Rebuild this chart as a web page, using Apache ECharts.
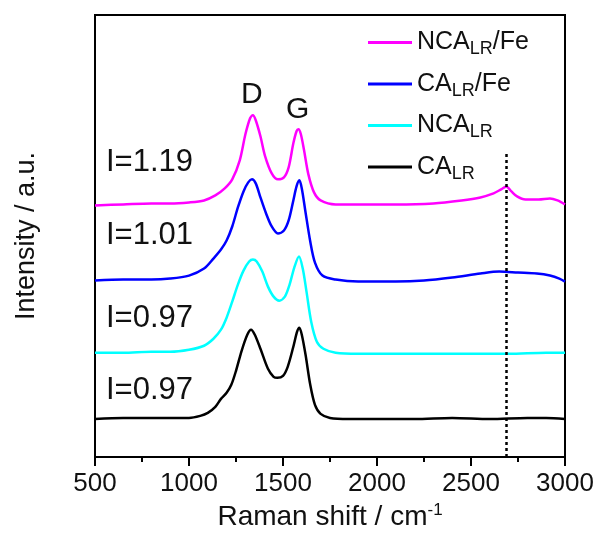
<!DOCTYPE html>
<html>
<head>
<meta charset="utf-8">
<script src="https://cdn.jsdelivr.net/npm/echarts@6/dist/echarts.min.js"></script>
<style>
  html, body { margin: 0; padding: 0; background: #fff; }
  #main { width: 602px; height: 537px; }
</style>
</head>
<body>
<div id="main"></div>
<script>
// Raman shift (cm-1) vs intensity (a.u., curves stacked with offsets)
var caLR = [[500,38],[650,39],[800,39],[900,39],[1000,39],[1060,41],[1100,44],[1140,50],[1170,58],[1200,64],[1225,72],[1250,86],[1280,106],[1310,122],[1330,127],[1350,122],[1380,108],[1420,88],[1450,80],[1470,79],[1500,81],[1525,90],[1555,110],[1575,125],[1587,129],[1600,122],[1620,102],[1645,72],[1670,52],[1700,43],[1750,39],[1850,38],[2000,38],[2200,38],[2400,39],[2600,38],[2800,39],[2900,39],[3000,38]];
var ncaLR = [[500,104],[650,104],[800,105],[900,105],[1000,107],[1080,111],[1130,118],[1170,127],[1200,139],[1230,155],[1260,172],[1290,186],[1320,195],[1340,197],[1360,195],[1390,185],[1420,170],[1450,160],[1480,156],[1510,160],[1535,172],[1560,189],[1585,200],[1605,188],[1625,165],[1650,135],[1680,115],[1715,108],[1780,104],[1900,103],[2100,103],[2300,103],[2500,103],[2700,103],[2900,104],[3000,104]];
var caLRFe = [[500,176],[650,177],[800,177],[900,178],[1000,181],[1080,188],[1130,198],[1170,207],[1200,216],[1230,230],[1260,249],[1290,265],[1315,274],[1335,277],[1355,273],[1380,259],[1410,243],[1440,230],[1473,223],[1505,226],[1530,236],[1555,256],[1572,270],[1587,276],[1600,268],[1620,244],[1645,215],[1670,194],[1710,181],[1780,177],[1900,175],[2100,175],[2250,176],[2400,179],[2550,183],[2650,185],[2750,184],[2850,183],[2920,181],[2970,178],[3000,175]];
var ncaLRFe = [[500,251],[650,252],[800,253],[900,253],[1000,254],[1080,256],[1140,261],[1190,268],[1230,277],[1270,296],[1300,322],[1325,338],[1340,341],[1355,336],[1380,320],[1405,300],[1440,283],[1473,277],[1505,279],[1530,289],[1555,313],[1572,325],[1582,327],[1595,322],[1612,306],[1635,282],[1665,264],[1700,256],[1780,252],[1900,252],[2100,252],[2300,253],[2450,256],[2550,259],[2620,263],[2660,267],[2688,270],[2715,265],[2745,260],[2790,257],[2860,257],[2920,258],[2960,256],[3000,252]];

var names = ['NCA_LR/Fe', 'CA_LR/Fe', 'NCA_LR', 'CA_LR'];
var colors = ['#ff00ff', '#0000ff', '#00ffff', '#000000'];
var ratios = ['I=1.19', 'I=1.01', 'I=0.97', 'I=0.97'];
var dotX = 2690;      // dotted reference line (2D band)
var dotTop = 304;

var font = 'Arial, "Liberation Sans", sans-serif';
var chart = echarts.init(document.getElementById('main'));

function sub(name) {
  var p = name.split('_LR');
  return '{n|' + p[0] + '}{s|LR}{n|' + p[1] + '}';
}

var dataSets = [ncaLRFe, caLRFe, ncaLR, caLR];
var series = names.map(function (n, i) {
  var s = {
    name: n,
    type: 'line',
    data: dataSets[i],
    symbol: 'none',
    smooth: 0.3,
    lineStyle: { color: colors[i], width: 2.5 },
    itemStyle: { color: colors[i] }
  };
  if (i == 3) {
    s.markLine = {
      silent: true,
      symbol: 'none',
      label: { show: false },
      lineStyle: { color: '#000', type: [3, 3], width: 2.5 },
      data: [[{ coord: [dotX, 0] }, { coord: [dotX, dotTop] }]]
    };
  }
  return s;
});

var labelY = [164, 237, 320, 392];
var graphics = ratios.map(function (t, i) {
  return {
    type: 'text', left: 106, top: labelY[i] - 17,
    style: { text: t, font: '31px ' + font, fill: '#111' }
  };
});
graphics.push({ type: 'text', left: 241, top: 80, style: { text: 'D', font: '30px ' + font, fill: '#111' } });
graphics.push({ type: 'text', left: 286, top: 95, style: { text: 'G', font: '30px ' + font, fill: '#111' } });

chart.setOption({
  animation: false,
  grid: {
    left: 95, right: 37, top: 15, bottom: 80,
    show: true, borderColor: '#000', borderWidth: 2
  },
  legend: {
    orient: 'vertical',
    left: 363, top: 25,
    icon: 'rect',
    itemWidth: 44, itemHeight: 3, itemGap: 13,
    data: names,
    formatter: sub,
    textStyle: {
      fontFamily: font,
      rich: {
        n: { fontSize: 25, color: '#111', fontFamily: font },
        s: { fontSize: 18, color: '#111', fontFamily: font, padding: [14, 0, 0, 0] }
      }
    }
  },
  xAxis: {
    type: 'value',
    min: 500, max: 3000, interval: 500,
    name: '{a|Raman shift / cm}{b|-1}',
    nameLocation: 'middle',
    nameGap: 42,
    nameTextStyle: {
      rich: {
        a: { fontSize: 28, color: '#111', fontFamily: font },
        b: { fontSize: 17, color: '#111', fontFamily: font, padding: [0, 0, 14, 0] }
      }
    },
    axisLine: { lineStyle: { color: '#000', width: 2 } },
    axisTick: { inside: false, length: 9, lineStyle: { width: 2 } },
    minorTick: { show: true, splitNumber: 2, length: 5, lineStyle: { color: '#000', width: 2 } },
    axisLabel: {
      fontSize: 26, color: '#111', fontFamily: font, margin: 14,
      formatter: function (v) { return String(v); }
    },
    splitLine: { show: false }
  },
  yAxis: {
    type: 'value',
    min: 0, max: 441,
    name: 'Intensity / a.u.',
    nameLocation: 'middle',
    nameGap: 55,
    nameTextStyle: { fontSize: 27, color: '#111', fontFamily: font },
    axisLine: { show: true, lineStyle: { color: '#000', width: 2 } },
    axisTick: { show: false },
    axisLabel: { show: false },
    splitLine: { show: false }
  },
  graphic: graphics,
  series: series
});
</script>
</body>
</html>
